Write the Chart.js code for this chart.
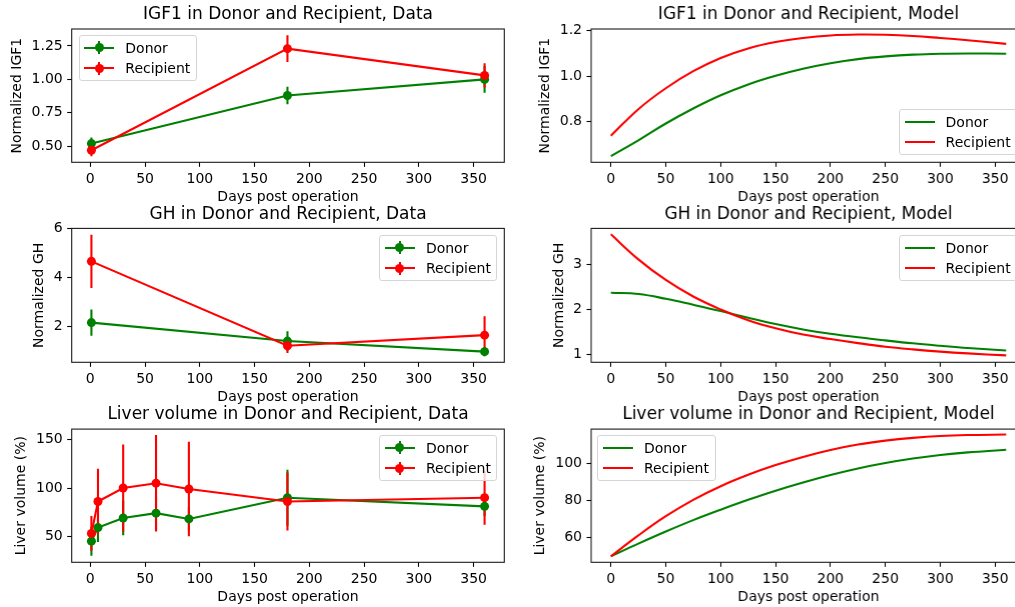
<!DOCTYPE html>
<html><head><meta charset="utf-8">
<script src="https://cdn.jsdelivr.net/npm/chart.js@4.4.1/dist/chart.umd.min.js"></script>
<style>
html,body{margin:0;padding:0;background:#fff;}
#fig{position:relative;width:1015px;height:607px;overflow:hidden;font-family:"DejaVu Sans",sans-serif;}
.pane{position:absolute;}
.pane canvas{display:block;}
.leg{position:absolute;box-sizing:border-box;border:1px solid #d5d5d5;border-radius:3px;background:rgba(255,255,255,0.8);font:14px "DejaVu Sans";color:#000;padding-top:1.5px;z-index:5;}
.row{height:20.5px;position:relative;}
.h{position:absolute;left:4.7px;top:50%;width:30px;height:0;}
.h .ln{position:absolute;left:0;top:-1.05px;width:30px;height:2.1px;}
.h .mk{position:absolute;left:10.5px;top:-4.5px;width:9px;height:9px;border-radius:50%;}
.h .eb{position:absolute;left:14px;top:-6.5px;width:2px;height:13px;}
.t{position:absolute;left:45.6px;top:0;line-height:20.5px;white-space:nowrap;}
</style></head>
<body>
<div id="fig"></div>
<script>
// ---------- data ----------
const seriesNames = ['Donor', 'Recipient'];
const xTickValues = [0, 50, 100, 150, 200, 250, 300, 350];

// IGF1 data
const igfDays = [1, 180, 360];
const igfDonor = [0.52, 0.88, 1.00];
const igfDonorErr = [0.045, 0.065, 0.10];
const igfRecipient = [0.47, 1.23, 1.03];
const igfRecipientErr = [0.045, 0.10, 0.09];
const igfDataYTicks = [0.5, 0.75, 1.0, 1.25];
const igfDataYLabels = ['0.50', '0.75', '1.00', '1.25'];

// GH data
const ghDays = [1, 180, 360];
const ghDonor = [2.17, 1.42, 0.99];
const ghDonorErr = [0.53, 0.40, 0.19];
const ghRecipient = [4.66, 1.23, 1.66];
const ghRecipientErr = [1.08, 0.30, 0.77];
const ghDataYTicks = [2, 4, 6];
const ghDataYLabels = ['2', '4', '6'];

// Liver volume data
const liverDays = [1, 7, 30, 60, 90, 180, 360];
const liverDonor = [45, 59, 69, 74, 68, 90, 81];
const liverDonorErr = [15, 15, 18, 18, 12, 29, 10];
const liverRecipient = [53, 86, 100, 105, 99, 86, 90];
const liverRecipientErr = [18, 34, 45, 50, 49, 30, 28];
const liverDataYTicks = [50, 100, 150];
const liverDataYLabels = ['50', '100', '150'];

// Model curves (sampled days)
const modelDays = [0, 25, 50, 75, 100, 125, 150, 175, 200, 225, 250, 275, 300, 325, 360];
const igfModelDonor = [0.649, 0.718, 0.792, 0.858, 0.916, 0.964, 1.002, 1.033, 1.057, 1.075, 1.087, 1.095, 1.099, 1.100, 1.099];
const igfModelRecipient = [0.738, 0.855, 0.947, 1.022, 1.080, 1.122, 1.150, 1.168, 1.179, 1.183, 1.182, 1.177, 1.168, 1.158, 1.142];
const igfModelYTicks = [0.8, 1.0, 1.2];
const igfModelYLabels = ['0.8', '1.0', '1.2'];

const ghModelDonor = [2.375, 2.345, 2.24, 2.105, 1.965, 1.815, 1.675, 1.555, 1.46, 1.38, 1.31, 1.245, 1.19, 1.14, 1.085];
const ghModelRecipient = [3.68, 3.12, 2.66, 2.29, 2.00, 1.76, 1.58, 1.44, 1.34, 1.25, 1.17, 1.11, 1.06, 1.02, 0.975];
const ghModelYTicks = [1, 2, 3];
const ghModelYLabels = ['1', '2', '3'];

const liverModelDonor = [50, 56.8, 63.3, 69.4, 75.0, 80.3, 85.2, 89.6, 93.6, 97.1, 100.0, 102.4, 104.3, 105.7, 107.1];
const liverModelRecipient = [50, 61.2, 71.5, 80.3, 87.6, 93.7, 98.9, 103.3, 107.0, 109.9, 112.0, 113.5, 114.5, 115.0, 115.3];
const liverModelYTicks = [60, 80, 100];
const liverModelYLabels = ['60', '80', '100'];

// ---------- styling / layout ----------
const GREEN = '#008000', RED = '#ff0000';
Chart.defaults.font.family = '"DejaVu Sans"';
Chart.defaults.font.size = 14;
Chart.defaults.color = '#000';

const PANE_H = 210;
const LEFT = {paneLeft: 0, paneW: 576, yW: 71.7, rW: 71.7, xMin: -17, xMax: 378};
const RIGHT = {paneLeft: 515, paneW: 586.7, yW: 76, rW: 76, xMin: -18, xMax: 378};
const ROWS = [
  {top: 0, tPad: {top: 4.3, bottom: 4.3}},
  {top: 200, tPad: {top: 4.8, bottom: 3.2}},
  {top: 400, tPad: {top: 4.8, bottom: 3.9}}
];

const panels = [
  {col: LEFT, row: ROWS[0], title: 'IGF1 in Donor and Recipient, Data', yLabel: 'Normalized IGF1',
   days: igfDays, d: igfDonor, r: igfRecipient, dErr: igfDonorErr, rErr: igfRecipientErr,
   yMin: 0.38, yMax: 1.377, yTicks: igfDataYTicks, yLabels: igfDataYLabels, yTitlePad: 8.8,
   legend: {left: 78.7, top: 35, w: 118}},
  {col: RIGHT, row: ROWS[0], title: 'IGF1 in Donor and Recipient, Model', yLabel: 'Normalized IGF1',
   days: modelDays, d: igfModelDonor, r: igfModelRecipient,
   yMin: 0.6215, yMax: 1.2075, yTicks: igfModelYTicks, yLabels: igfModelYLabels, yTitlePad: 21.6,
   legend: {left: 899, top: 109, w: 118}},
  {col: LEFT, row: ROWS[1], title: 'GH in Donor and Recipient, Data', yLabel: 'Normalized GH',
   days: ghDays, d: ghDonor, r: ghRecipient, dErr: ghDonorErr, rErr: ghRecipientErr,
   yMin: 0.557, yMax: 6.0, yTicks: ghDataYTicks, yLabels: ghDataYLabels, yTitlePad: 30.8,
   legend: {left: 379.3, top: 235, w: 118}},
  {col: RIGHT, row: ROWS[1], title: 'GH in Donor and Recipient, Model', yLabel: 'Normalized GH',
   days: modelDays, d: ghModelDonor, r: ghModelRecipient,
   yMin: 0.821, yMax: 3.812, yTicks: ghModelYTicks, yLabels: ghModelYLabels, yTitlePad: 35.8,
   legend: {left: 899, top: 235, w: 118}},
  {col: LEFT, row: ROWS[2], title: 'Liver volume in Donor and Recipient, Data', yLabel: 'Liver volume (%)',
   days: liverDays, d: liverDonor, r: liverRecipient, dErr: liverDonorErr, rErr: liverRecipientErr,
   yMin: 23.1, yMax: 161, yTicks: liverDataYTicks, yLabels: liverDataYLabels, yTitlePad: 13.0,
   legend: {left: 379.3, top: 435, w: 118}},
  {col: RIGHT, row: ROWS[2], title: 'Liver volume in Donor and Recipient, Model', yLabel: 'Liver volume (%)',
   days: modelDays, d: liverModelDonor, r: liverModelRecipient,
   yMin: 46.8, yMax: 118.2, yTicks: liverModelYTicks, yLabels: liverModelYLabels, yTitlePad: 17.4,
   legend: {left: 597.3, top: 435, w: 118.7}}
];

const errorBars = {
  id: 'errorBars',
  beforeDatasetsDraw(chart) {
    const {ctx, chartArea, scales: {x, y}} = chart;
    ctx.save();
    ctx.beginPath();
    ctx.rect(chartArea.left, chartArea.top, chartArea.right - chartArea.left, chartArea.bottom - chartArea.top);
    ctx.clip();
    ctx.lineWidth = 2.1;
    ctx.lineCap = 'butt';
    chart.data.datasets.forEach(ds => {
      if (!ds.errors) return;
      ctx.strokeStyle = ds.borderColor;
      ds.data.forEach((p, i) => {
        const px = x.getPixelForValue(p.x);
        ctx.beginPath();
        ctx.moveTo(px, y.getPixelForValue(p.y - ds.errors[i]));
        ctx.lineTo(px, y.getPixelForValue(p.y + ds.errors[i]));
        ctx.stroke();
      });
    });
    ctx.restore();
  }
};

const frame = {
  id: 'frame',
  afterDraw(chart) {
    const {ctx, chartArea: a} = chart;
    ctx.save();
    ctx.strokeStyle = '#1a1a1a';
    ctx.lineWidth = 1.1;
    ctx.strokeRect(a.left, a.top, a.right - a.left, a.bottom - a.top);
    ctx.restore();
  }
};

const fig = document.getElementById('fig');

function makeLegend(p, withErr) {
  const box = document.createElement('div');
  box.className = 'leg';
  box.style.left = p.legend.left + 'px';
  box.style.top = p.legend.top + 'px';
  box.style.width = p.legend.w + 'px';
  box.style.height = '45.7px';
  [GREEN, RED].forEach((c, i) => {
    const row = document.createElement('div');
    row.className = 'row';
    let h = '<div class="h"><div class="ln" style="background:' + c + '"></div>';
    if (withErr) h += '<div class="eb" style="background:' + c + '"></div><div class="mk" style="background:' + c + '"></div>';
    h += '</div><div class="t"></div>';
    row.innerHTML = h;
    row.querySelector('.t').textContent = seriesNames[i];
    box.appendChild(row);
  });
  fig.appendChild(box);
}

panels.forEach(p => {
  const pane = document.createElement('div');
  pane.className = 'pane';
  pane.style.left = p.col.paneLeft + 'px';
  pane.style.top = p.row.top + 'px';
  const cv = document.createElement('canvas');
  cv.width = p.col.paneW; cv.height = PANE_H;
  cv.style.width = p.col.paneW + 'px'; cv.style.height = PANE_H + 'px';
  pane.appendChild(cv);
  fig.appendChild(pane);

  const isData = !!p.dErr;
  const mk = (vals, errs, color, name, order) => ({
    label: name,
    data: p.days.map((dx, i) => ({x: dx, y: vals[i]})),
    errors: errs,
    borderColor: color,
    backgroundColor: color,
    borderWidth: 2.1,
    pointRadius: isData ? 4.5 : 0,
    pointHoverRadius: 0,
    pointBorderWidth: 0,
    pointBackgroundColor: color,
    tension: isData ? 0 : 0.4,
    order: order
  });

  const yTicks = p.yTicks, yLabels = p.yLabels;
  new Chart(cv, {
    type: 'line',
    data: {datasets: [
      mk(p.d, p.dErr, GREEN, seriesNames[0], 1),
      mk(p.r, p.rErr, RED, seriesNames[1], 0)
    ]},
    options: {
      responsive: false, animation: false, events: [],
      layout: {padding: 0, autoPadding: false},
      plugins: {
        legend: {display: false}, tooltip: {enabled: false},
        title: {display: true, text: p.title, color: '#000',
                font: {size: 17, weight: 'normal', lineHeight: 1.2}, padding: p.row.tPad}
      },
      scales: {
        x: {
          type: 'linear', position: 'bottom', min: p.col.xMin, max: p.col.xMax,
          afterBuildTicks: s => { s.ticks = xTickValues.map(v => ({value: v})); },
          afterFit: s => { s.height = PANE_H - 162.3; },
          ticks: {autoSkip: false, maxRotation: 0, padding: 4.5, callback: v => String(v)},
          grid: {display: true, drawOnChartArea: false, drawTicks: true, tickLength: 4.5, tickWidth: 1.1, tickColor: '#000'},
          border: {display: false},
          title: {display: true, text: 'Days post operation', padding: {top: 0, bottom: 4.2}, font: {size: 14, lineHeight: 1.2}}
        },
        y: {
          type: 'linear', position: 'left', min: p.yMin, max: p.yMax,
          afterBuildTicks: s => { s.ticks = yTicks.map(v => ({value: v})); },
          afterFit: s => { s.width = p.col.yW; },
          ticks: {autoSkip: false, padding: 4.5, callback: v => yLabels[yTicks.indexOf(v)]},
          grid: {display: true, drawOnChartArea: false, drawTicks: true, tickLength: 4.5, tickWidth: 1.1, tickColor: '#000'},
          border: {display: false},
          title: {display: true, text: p.yLabel, padding: {top: p.yTitlePad, bottom: 0}, font: {size: 14, lineHeight: 1.2}}
        },
        r: {
          type: 'linear', position: 'right', display: true,
          ticks: {display: false}, grid: {display: false, drawTicks: false}, border: {display: false},
          afterFit: s => { s.width = p.col.rW; }
        }
      }
    },
    plugins: [errorBars, frame]
  });
  makeLegend(p, isData);
});
</script>
</body></html>
